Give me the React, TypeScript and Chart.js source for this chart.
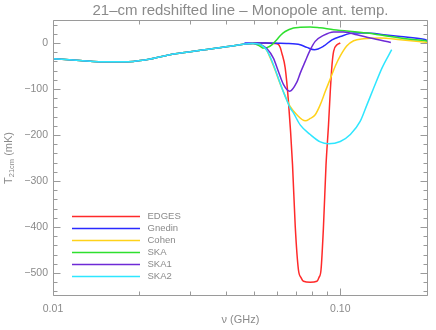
import React, { useEffect, useRef } from "react";
import { Chart, registerables } from "chart.js";

Chart.register(...registerables);

// ---------- data ----------
const TITLE = "21\u2013cm redshifted line \u2013 Monopole ant. temp.";
const X_TITLE = "\u03bd (GHz)";
const Y_TITLE_MAIN = "T";
const Y_TITLE_SUB = "21cm";
const Y_TITLE_TAIL = " (mK)";

const X_MIN = 0.01;
const X_MAX = 0.202;
const Y_MIN = -550;
const Y_MAX = 50;

const X_TICK_VALUES = [0.01, 0.1];
const X_TICK_LABELS = ["0.01", "0.10"];
const X_MINOR = [0.02, 0.03, 0.04, 0.05, 0.06, 0.07, 0.08, 0.09, 0.2];
const Y_TICK_VALUES = [-500, -400, -300, -200, -100, 0];
const Y_TICK_LABELS = ["\u2212500", "\u2212400", "\u2212300", "\u2212200", "\u2212100", "0"];
const Y_MINOR = [-540, -520, -480, -460, -440, -420, -380, -360, -340, -320, -280, -260, -240, -220, -180, -160, -140, -120, -80, -60, -40, -20, 20, 40];

// shared low-frequency part (GHz, mK)
const COMMON_NU = [0.01, 0.0124, 0.0154, 0.019, 0.0218, 0.0262, 0.0343, 0.0425, 0.0464];
const COMMON_T = [-34, -38, -41, -40, -35, -24, -14, -6, -2];

const EDGES_NU = [0.0497, 0.055, 0.059, 0.0609, 0.0618, 0.0626, 0.0643, 0.066, 0.0682, 0.0697, 0.0715, 0.073, 0.0745, 0.0786, 0.0829, 0.0843, 0.0857, 0.0874, 0.0892, 0.091, 0.0923, 0.0936, 0.0948, 0.0974, 0.1];
const EDGES_T = [0, 0, -1, -3, -10, -22, -54, -127, -265, -399, -493, -510, -518, -520, -518, -510, -493, -399, -265, -178, -105, -47, -18, -4, 0];

const GNEDIN_NU = [0.0464, 0.055, 0.065, 0.07, 0.0725, 0.0765, 0.0812, 0.0874, 0.0936, 0.1, 0.1113, 0.1239, 0.1416, 0.1619, 0.1952, 0.202];
const GNEDIN_T = [0, 0, -1, -2, -3.7, -9.5, -14.6, -7, 7, 14, 21.7, 21.7, 18, 14, 8, 5];

const COHEN_NU = [0.0497, 0.0526, 0.054, 0.0555, 0.057, 0.0594, 0.0618, 0.0643, 0.0669, 0.0706, 0.0755, 0.0786, 0.0818, 0.0852, 0.0887, 0.0923, 0.0961, 0.1, 0.1055, 0.1113, 0.1206, 0.1379, 0.1619, 0.202];
const COHEN_T = [-1, -3, -7, -16, -32, -60, -89, -115, -138, -156, -169, -164, -156, -134, -105, -78, -50, -28, -6, 5, 9.3, 11, 7, 1];

const SKA_NU = [0.0497, 0.0526, 0.054, 0.0555, 0.0578, 0.0601, 0.062, 0.0643, 0.0687, 0.0725, 0.0786, 0.085, 0.0948, 0.1239, 0.1494, 0.1619, 0.202];
const SKA_T = [-1, -7, -11, -10, -4, 7, 17, 25, 32.6, 34, 35, 33, 29, 21.7, 14, 11, 4];

const SKA1_NU = [0.0497, 0.0526, 0.0555, 0.0585, 0.0609, 0.0634, 0.0666, 0.0706, 0.0725, 0.0755, 0.0786, 0.0818, 0.0874, 0.0948, 0.1027, 0.1143, 0.1273, 0.15];
const SKA1_T = [-1, -3, -12, -33, -62, -90, -105, -85, -66, -40, -15, 3.5, 16.5, 24, 24, 18, 11, 1.3];

const SKA2_NU = [0.0497, 0.0526, 0.054, 0.0555, 0.057, 0.0594, 0.0618, 0.0643, 0.0669, 0.0687, 0.0725, 0.0786, 0.0852, 0.091, 0.1, 0.1084, 0.1174, 0.1239, 0.1307, 0.1398, 0.151];
const SKA2_T = [-1, -3, -8, -16, -30, -58, -88, -116, -141, -152, -178, -199, -215, -219, -214, -199, -170, -134, -98, -54, -14.6];

const SERIES_LABELS = ["EDGES", "Gnedin", "Cohen", "SKA", "SKA1", "SKA2"];
const SERIES_COLORS = ["#ff2a2a", "#2a2aff", "#ffd21a", "#2ee02e", "#6e2ad6", "#2ee6ff"];

// ---------- helpers ----------
const pts = (nu: number[], t: number[]) => nu.map((x, i) => ({ x, y: t[i] }));

const SERIES_DATA = [
  pts(EDGES_NU, EDGES_T),
  pts(GNEDIN_NU, GNEDIN_T),
  pts(COMMON_NU.concat(COHEN_NU), COMMON_T.concat(COHEN_T)),
  pts(COMMON_NU.concat(SKA_NU), COMMON_T.concat(SKA_T)),
  pts(COMMON_NU.concat(SKA1_NU), COMMON_T.concat(SKA1_T)),
  pts(COMMON_NU.concat(SKA2_NU), COMMON_T.concat(SKA2_T)),
];

const TEXT_COLOR = "#8a8a8a";
const FRAME_COLOR = "#9a9a9a";
const FONT = "'Liberation Sans', Arial, sans-serif";

const decorPlugin = {
  id: "decor",
  afterDatasetsDraw(chart: any) {
    const { ctx, chartArea: a, scales } = chart;
    const xs = scales.x;
    const ys = scales.y;
    ctx.save();
    // frame
    ctx.strokeStyle = FRAME_COLOR;
    ctx.lineWidth = 1;
    const L = Math.round(a.left) + 0.5;
    const R = Math.round(a.right) - 0.5;
    const T = Math.round(a.top) + 0.5;
    const B = Math.round(a.bottom) - 0.5;
    ctx.beginPath();
    ctx.rect(L, T, R - L, B - T);
    ctx.stroke();
    // ticks
    ctx.beginPath();
    const xTick = (v: number, len: number) => {
      const p = Math.round(xs.getPixelForValue(v)) + 0.5;
      ctx.moveTo(p, B); ctx.lineTo(p, B - len);
      ctx.moveTo(p, T); ctx.lineTo(p, T + len);
    };
    const yTick = (v: number, len: number) => {
      const p = Math.round(ys.getPixelForValue(v)) + 0.5;
      ctx.moveTo(L, p); ctx.lineTo(L + len, p);
      ctx.moveTo(R, p); ctx.lineTo(R - len, p);
    };
    X_TICK_VALUES.forEach((v) => xTick(v, 7));
    X_MINOR.forEach((v) => xTick(v, 4));
    Y_TICK_VALUES.forEach((v) => yTick(v, 7));
    Y_MINOR.forEach((v) => yTick(v, 4));
    ctx.stroke();

    ctx.fillStyle = TEXT_COLOR;
    ctx.textBaseline = "middle";
    ctx.textAlign = "center";
    // title (centred over the plot frame)
    ctx.font = `15px ${FONT}`;
    ctx.fillText(TITLE, (a.left + a.right) / 2, 10.5);
    // x title
    ctx.font = `11px ${FONT}`;
    ctx.fillText(X_TITLE, (a.left + a.right) / 2, 320);

    // y title with subscript
    ctx.save();
    ctx.translate(9, (a.top + a.bottom) / 2);
    ctx.rotate(-Math.PI / 2);
    ctx.textAlign = "left";
    ctx.font = `11px ${FONT}`;
    const w1 = ctx.measureText(Y_TITLE_MAIN).width;
    const w3 = ctx.measureText(Y_TITLE_TAIL).width;
    ctx.font = `7.5px ${FONT}`;
    const w2 = ctx.measureText(Y_TITLE_SUB).width;
    let x0 = -(w1 + w2 + w3) / 2;
    ctx.font = `11px ${FONT}`;
    ctx.fillText(Y_TITLE_MAIN, x0, 0);
    x0 += w1;
    ctx.font = `7.5px ${FONT}`;
    ctx.fillText(Y_TITLE_SUB, x0, 3);
    x0 += w2;
    ctx.font = `11px ${FONT}`;
    ctx.fillText(Y_TITLE_TAIL, x0, 0);
    ctx.restore();

    // legend
    ctx.font = `9.5px ${FONT}`;
    ctx.textAlign = "left";
    ctx.textBaseline = "middle";
    chart.data.datasets.forEach((ds: any, i: number) => {
      const y = Math.round(a.top + 195.7 + 12 * i) + 0.5;
      ctx.strokeStyle = ds.borderColor;
      ctx.lineWidth = 1.5;
      ctx.beginPath();
      ctx.moveTo(a.left + 19, y);
      ctx.lineTo(a.left + 87, y);
      ctx.stroke();
      ctx.fillStyle = TEXT_COLOR;
      ctx.fillText(ds.label, a.left + 94.5, y);
    });
    ctx.restore();
  },
};

export default function App() {
  const ref = useRef<HTMLCanvasElement>(null);
  useEffect(() => {
    const n = SERIES_LABELS.length;
    const chart = new Chart(ref.current as HTMLCanvasElement, {
      type: "line",
      data: {
        datasets: SERIES_LABELS.map((label, i) => ({
          label,
          data: SERIES_DATA[i],
          borderColor: SERIES_COLORS[i],
          backgroundColor: SERIES_COLORS[i],
          borderWidth: 1.5,
          pointRadius: 0,
          fill: false,
          cubicInterpolationMode: "monotone" as const,
          order: n - 1 - i,
        })),
      },
      options: {
        responsive: false,
        animation: false,
        devicePixelRatio: 1,
        layout: { padding: { top: 20, right: 8, bottom: 0, left: 0 } },
        plugins: {
          legend: { display: false },
          tooltip: { enabled: false },
          title: { display: false },
        },
        scales: {
          x: {
            type: "logarithmic",
            min: X_MIN,
            max: X_MAX,
            grid: { display: false, drawTicks: false },
            border: { display: false },
            afterBuildTicks: (s: any) => {
              s.ticks = X_TICK_VALUES.map((v) => ({ value: v }));
            },
            afterFit: (s: any) => {
              s.height = 34;
            },
            ticks: {
              color: TEXT_COLOR,
              font: { family: FONT, size: 10.5 },
              padding: 7,
              autoSkip: false,
              maxRotation: 0,
              callback: (_v: any, i: number) => X_TICK_LABELS[i],
            },
          },
          y: {
            type: "linear",
            min: Y_MIN,
            max: Y_MAX,
            grid: { display: false, drawTicks: false },
            border: { display: false },
            afterBuildTicks: (s: any) => {
              s.ticks = Y_TICK_VALUES.map((v) => ({ value: v }));
            },
            afterFit: (s: any) => {
              s.width = 53;
            },
            ticks: {
              color: TEXT_COLOR,
              font: { family: FONT, size: 10.5 },
              padding: 5,
              autoSkip: false,
              callback: (_v: any, i: number) => Y_TICK_LABELS[i],
            },
          },
        },
      },
      plugins: [decorPlugin],
    } as any);
    return () => chart.destroy();
  }, []);
  return (
    <div style={{ position: "fixed", left: 0, top: 0, width: 436, height: 330, background: "#fff" }}>
      <canvas ref={ref} width={436} height={330} style={{ display: "block", width: 436, height: 330 }} />
    </div>
  );
}
